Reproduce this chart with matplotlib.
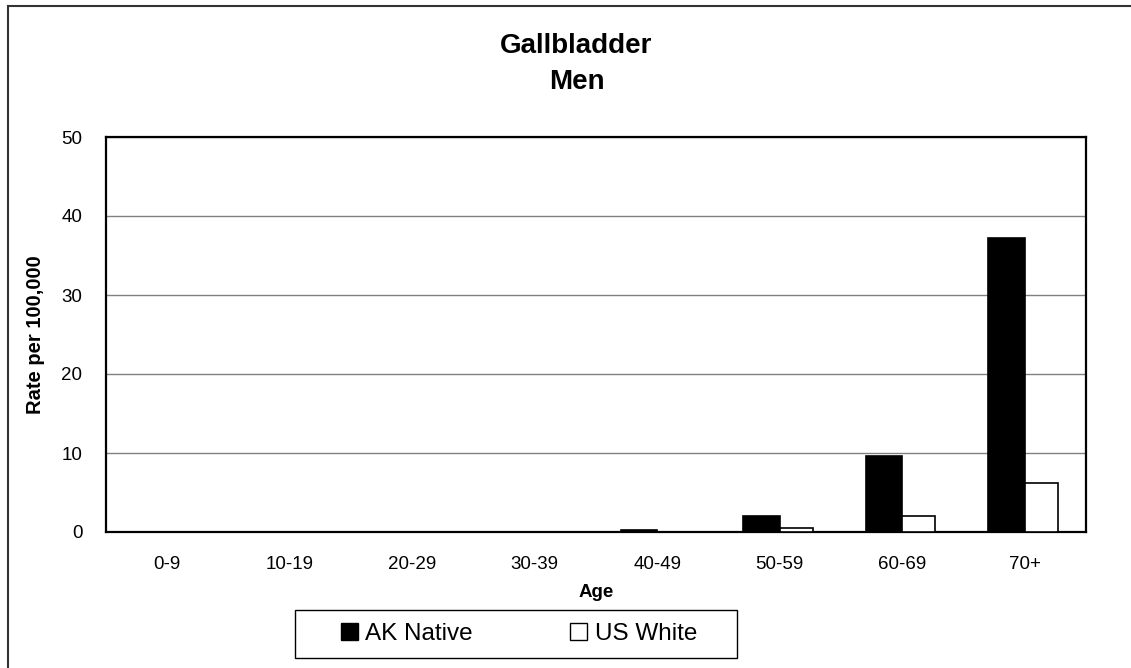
import numpy as np
import matplotlib.pyplot as plt
from matplotlib.patches import Patch, Rectangle
from matplotlib.lines import Line2D

plt.rcParams['font.family'] = ['Liberation Sans', 'DejaVu Sans']

# Datos
ages = ['0-9', '10-19', '20-29', '30-39', '40-49', '50-59', '60-69', '70+']
ak_native = [0, 0, 0, 0, 0.25, 2.0, 9.6, 37.2]
us_white = [0, 0, 0, 0, 0, 0.5, 2.0, 6.2]

W, H = 1131, 668
fig = plt.figure(figsize=(W / 100, H / 100), dpi=100)
ax = fig.add_axes([106 / W, 1 - 532 / H, 980 / W, 395 / H])

# barras a la izquierda / derecha del centro de cada categoría
x = np.arange(len(ages))
ax.bar(x - 0.3, ak_native, width=0.3, align='edge', color='black',
       edgecolor='black', linewidth=1.2, zorder=3)
ax.bar(x, us_white, width=0.27, align='edge', color='white',
       edgecolor='black', linewidth=1.2, zorder=3)

ax.set_xlim(-0.5, len(ages) - 0.5)
ax.set_ylim(0, 50)
ax.set_yticks([0, 10, 20, 30, 40, 50])
ax.set_xticks(x)
ax.set_xticklabels(ages)
ax.tick_params(axis='both', length=0, labelsize=13.5)
ax.tick_params(axis='x', pad=17)
ax.tick_params(axis='y', pad=17)
ax.yaxis.grid(True, color='#808080', linewidth=1.0, zorder=0)
ax.set_axisbelow(True)
for s in ax.spines.values():
    s.set_linewidth(1.6)
    s.set_color('black')

ax.set_xlabel('Age', fontsize=13.5, fontweight='bold', labelpad=8)
ax.set_ylabel('Rate per 100,000', fontsize=14.5, fontweight='bold', labelpad=12)

fig.text(576 / W, 1 - 46 / H, 'Gallbladder', ha='center', va='center',
         fontsize=20, fontweight='bold')
fig.text(577 / W, 1 - 82 / H, 'Men', ha='center', va='center',
         fontsize=20, fontweight='bold')

handles = [Patch(facecolor='black', edgecolor='black', label='AK Native'),
           Patch(facecolor='white', edgecolor='black', label='US White')]
leg = fig.legend(handles=handles, loc='center', ncol=2,
                 bbox_to_anchor=(519 / W, 1 - 634 / H),
                 fontsize=17.5, frameon=False,
                 handlelength=0.7, handleheight=0.7, handletextpad=0.3,
                 columnspacing=4.0, borderpad=0, borderaxespad=0)

# marco de la leyenda
fig.add_artist(Rectangle((295 / W, 1 - 658 / H), 442 / W, 48 / H,
                         transform=fig.transFigure, fill=False,
                         edgecolor='black', linewidth=1.0))

# borde exterior (solo arriba e izquierda)
fig.add_artist(Line2D([8 / W, 8 / W], [0, 1 - 6 / H], color='#333333', linewidth=1.5))
fig.add_artist(Line2D([8 / W, 1], [1 - 6 / H, 1 - 6 / H], color='#333333', linewidth=1.5))

fig.savefig('out.png', dpi=100)
